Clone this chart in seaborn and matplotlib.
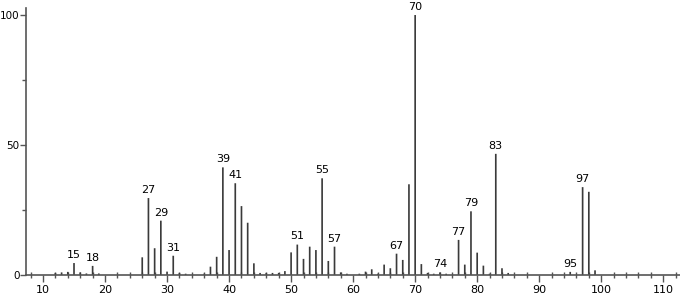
import matplotlib
matplotlib.use("Agg")
import matplotlib.pyplot as plt
import seaborn as sns
import pandas as pd
from matplotlib.ticker import MultipleLocator

mz = [12, 13, 14, 15, 16, 17, 18, 19,
      26, 27, 28, 29, 30, 31, 32, 33,
      36, 37, 38, 39, 40, 41, 42, 43, 44, 45, 46, 47, 48, 49,
      50, 51, 52, 53, 54, 55, 56, 57, 58, 59,
      61, 62, 63, 64, 65, 66, 67, 68, 69, 70, 71, 72, 73, 74, 75,
      77, 78, 79, 80, 81, 82, 83, 84, 85,
      95, 97, 98, 99]
intensity = [0.8, 1.0, 1.2, 4.6, 1.0, 0.6, 3.5, 0.6,
             6.8, 29.6, 10.3, 20.9, 1.3, 7.4, 0.8, 0.5,
             0.5, 3.2, 7.0, 41.4, 9.6, 35.3, 26.5, 20.1, 4.5, 0.8, 0.8, 0.8, 0.8, 1.5,
             8.7, 11.7, 6.2, 10.9, 9.6, 37.2, 5.4, 10.9, 1.0, 0.5,
             0.5, 1.3, 2.2, 0.5, 4.0, 2.6, 8.2, 5.8, 34.9, 100.0, 4.2, 0.8, 0.5, 1.0, 0.5,
             13.5, 4.0, 24.5, 8.6, 3.6, 0.5, 46.6, 2.6, 0.8,
             1.2, 33.8, 32.0, 1.8]
labeled = [15, 18, 27, 29, 31, 39, 41, 51, 55, 57, 67, 70, 74, 77, 79, 83, 95, 97]
x_ticks = [10, 20, 30, 40, 50, 60, 70, 80, 90, 100, 110]
y_ticks = [0, 50, 100]

df = pd.DataFrame({"mz": mz, "intensity": intensity})

sns.set_theme(style="white")
plt.rcParams["font.family"] = ["DejaVu Sans"]

fig = plt.figure(figsize=(6.8, 2.97), dpi=100)
ax = fig.add_axes([26 / 680, 22 / 297, 654 / 680, 267 / 297])

sns.barplot(data=df, x="mz", y="intensity", native_scale=True, width=0.27,
            color="#3a3a3a", saturation=1, linewidth=0, ax=ax)
for p in ax.patches:
    p.set_snap(False)

ax.set_xlim(7.26, 112.7)
ax.set_ylim(0, 102.7)

for m, v in zip(mz, intensity):
    if m in labeled:
        ax.text(m, v + 1.2, str(m), ha="center", va="bottom", fontsize=8, color="black")

for s in ["top", "right"]:
    ax.spines[s].set_visible(False)
for s in ["left", "bottom"]:
    ax.spines[s].set_color("#555555")
    ax.spines[s].set_linewidth(1.2)

ax.set_xticks(x_ticks)
ax.set_yticks(y_ticks)
ax.xaxis.set_minor_locator(MultipleLocator(2))
ax.yaxis.set_minor_locator(MultipleLocator(25))
ax.tick_params(axis="x", which="major", direction="out", length=5, width=1,
               color="#555555", labelsize=8, labelcolor="black", pad=2,
               bottom=True)
ax.tick_params(axis="y", which="major", direction="out", length=4, width=1,
               color="#555555", labelsize=7.5, labelcolor="black", pad=0.5,
               left=True)
ax.tick_params(axis="x", which="minor", direction="inout", length=5, width=1,
               color="#555555", bottom=True)
ax.tick_params(axis="y", which="minor", direction="out", length=3, width=1,
               color="#555555", left=True)
ax.set_xlabel("")
ax.set_ylabel("")
ax.grid(False)

fig.savefig("out.png", dpi=100)
